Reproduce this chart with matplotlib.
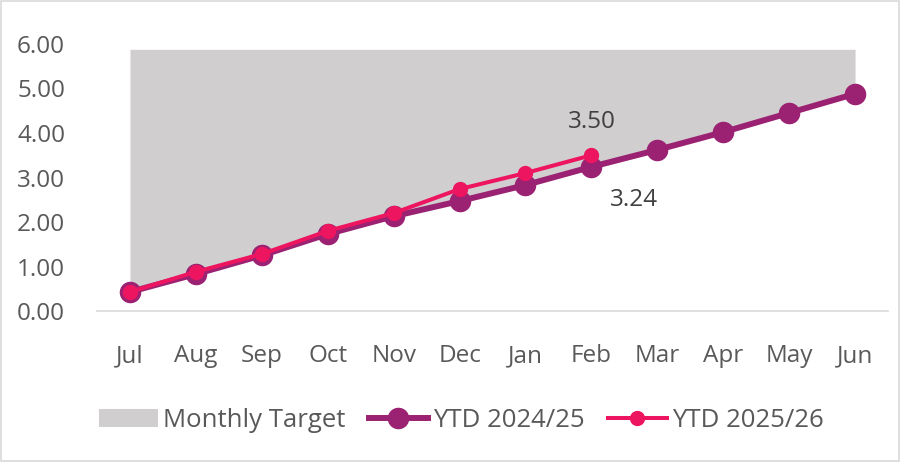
import matplotlib.pyplot as plt
from matplotlib.patches import Rectangle

months = ['Jul', 'Aug', 'Sep', 'Oct', 'Nov', 'Dec', 'Jan', 'Feb', 'Mar', 'Apr', 'May', 'Jun']
target_top = [5.88] * 12
target_base = [0.42, 0.80, 1.22, 1.68, 2.10, 2.44, 2.80, 3.18, 3.58, 4.00, 4.43, 4.86]
ytd_2425 = [0.43, 0.83, 1.25, 1.73, 2.13, 2.47, 2.83, 3.24, 3.62, 4.02, 4.45, 4.88]
ytd_2526 = [0.43, 0.88, 1.28, 1.80, 2.20, 2.74, 3.10, 3.50]
yticks = [0, 1, 2, 3, 4, 5, 6]

plt.rcParams['font.family'] = ['Open Sans', 'DejaVu Sans']
txt = '#595959'
fs = 17.5

fig = plt.figure(figsize=(9.01, 4.62), dpi=100)
ax = fig.add_axes([0.1077, 0.3268, 0.8779, 0.578])

x = list(range(len(months)))
ax.fill_between(x, target_base, target_top, color='#D0CECF', lw=0, label='Monthly Target', zorder=1)
ax.plot(x, ytd_2425, color='#9B2272', lw=4.3, marker='o', ms=14.5, label='YTD 2024/25', zorder=2)
ax.plot(x[:len(ytd_2526)], ytd_2526, color='#EE1560', lw=2.9, marker='o', ms=10, label='YTD 2025/26', zorder=3)

ax.annotate(f'{ytd_2526[-1]:.2f}', (7, ytd_2526[-1]), xytext=(0, 24), textcoords='offset points',
            ha='center', va='center', fontsize=fs, color='#404040')
ax.annotate(f'{ytd_2425[7]:.2f}', (7, ytd_2425[7]), xytext=(31, -24), textcoords='offset points',
            ha='center', va='center', fontsize=fs, color='#404040')

ax.set_xlim(-0.5, 11.5)
ax.set_ylim(0, 6)
ax.set_xticks(x)
ax.set_xticklabels(months)
ax.set_yticks(yticks)
ax.set_yticklabels([f'{v:.2f}' for v in yticks])
ax.tick_params(length=0, labelsize=fs, colors=txt)
ax.tick_params(axis='x', pad=24)
ax.tick_params(axis='y', pad=23)
for s in ['top', 'right', 'left']:
    ax.spines[s].set_visible(False)
ax.spines['bottom'].set_color('#D9D9D9')
ax.spines['bottom'].set_linewidth(1.2)

ax.legend(loc='center', bbox_to_anchor=(0.512, 0.089), bbox_transform=fig.transFigure,
          ncol=3, frameon=False, fontsize=18.5, labelcolor=txt, handlelength=2.3,
          handletextpad=0.2, columnspacing=0.9)

fig.patches.append(Rectangle((0.001, 0.002), 0.997, 0.995, transform=fig.transFigure,
                             fill=False, edgecolor='#D9D9D9', lw=1.2))

fig.savefig('out.png', dpi=100)
